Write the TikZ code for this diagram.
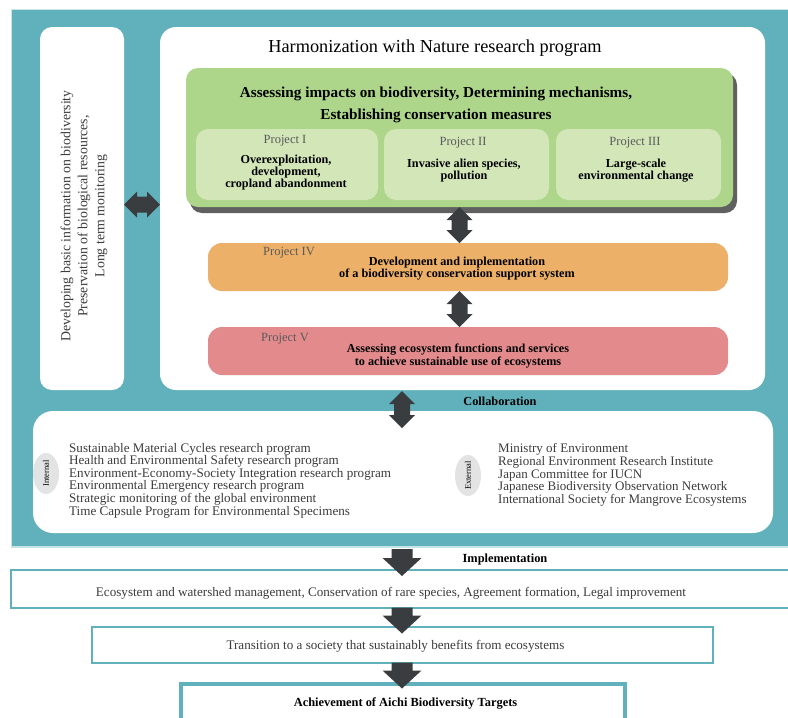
\documentclass[tikz,border=0pt]{standalone}
\usepackage{fontspec}
\setmainfont{Liberation Serif}
\usetikzlibrary{calc,shapes.geometric}
\definecolor{teal1}{HTML}{60B1BB}
\definecolor{grn1}{HTML}{AED68A}
\definecolor{grn2}{HTML}{D2E6B8}
\definecolor{org1}{HTML}{EDB068}
\definecolor{pnk1}{HTML}{E38B8C}
\definecolor{arr1}{HTML}{3A3D3F}
\definecolor{txtg}{HTML}{3C3C3C}
\definecolor{labg}{HTML}{5A5A5A}
\tikzset{
  box/.style={inner sep=0pt, outer sep=0pt},
  whitebox/.style={box, fill=white, rounded corners=14pt},
  projbox/.style={box, fill=grn2, rounded corners=12pt},
  plabel/.style={text=labg, font=\fontsize{12.5}{13}\selectfont},
  btext/.style={align=center, font=\bfseries\fontsize{12.2}{11}\selectfont},
  listtext/.style={align=left, anchor=west, inner sep=0pt, text=txtg},
  tag/.style={ellipse, fill=gray!22, minimum width=26pt, minimum height=41pt, inner sep=0pt},
  tagtext/.style={rotate=90, font=\fontsize{8.5}{9}\selectfont},
  stepframe/.style={box, fill=white, draw=teal1},
}
% vertical double block arrow between two points (same x)
\newcommand\vdouble[2]{%
  \path let \p1=(#1), \p2=(#2) in [fill=arr1]
    (\x1,\y1) -- (\x1+13pt,\y1-13pt) -- (\x1+8pt,\y1-13pt) -- (\x1+8pt,\y2+13pt)
    -- (\x1+13pt,\y2+13pt) -- (\x1,\y2) -- (\x1-13pt,\y2+13pt) -- (\x1-8pt,\y2+13pt)
    -- (\x1-8pt,\y1-13pt) -- (\x1-13pt,\y1-13pt) -- cycle;}
% horizontal double block arrow between two points (same y)
\newcommand\hdouble[2]{%
  \path let \p1=(#1), \p2=(#2) in [fill=arr1]
    (\x1,\y1) -- (\x1+13pt,\y1+13pt) -- (\x1+13pt,\y1+8pt) -- (\x2-13pt,\y1+8pt)
    -- (\x2-13pt,\y1+13pt) -- (\x2,\y1) -- (\x2-13pt,\y1-13pt) -- (\x2-13pt,\y1-8pt)
    -- (\x1+13pt,\y1-8pt) -- (\x1+13pt,\y1-13pt) -- cycle;}
% single downward block arrow from #1 to tip #2
\newcommand\vdown[2]{%
  \path let \p1=(#1), \p2=(#2) in [fill=arr1]
    (\x1-10.5pt,\y1) -- (\x1+10.5pt,\y1) -- (\x1+10.5pt,\y2+18pt) -- (\x1+19.5pt,\y2+18pt)
    -- (\x1,\y2) -- (\x1-19.5pt,\y2+18pt) -- (\x1-10.5pt,\y2+18pt) -- cycle;}
\begin{document}
\begin{tikzpicture}[x=1pt,y=-1pt]
\useasboundingbox (0,0) rectangle (788,718);
\fill[white] (0,0) rectangle (788,718);

% teal frame with a soft edge
\fill[teal1!35] (11,9) rectangle (790,548);
\node[box, fill=teal1, minimum width=778pt, minimum height=536pt] (frame) at (401,278) {};

% left column and main program panel
\node[whitebox, rounded corners=12pt, minimum width=84pt, minimum height=363pt] (lbox) at (82,208.5) {};
\node[rotate=90, align=center, text=txtg, font=\fontsize{13.8}{17}\selectfont] (ltext) at (84,216)
  {Developing basic information on biodiversity\\Preservation of biological resources,\\Long term monitoring};
\node[whitebox, rounded corners=16pt, minimum width=605pt, minimum height=363pt] (main) at (462.5,208.5) {};
\node[font=\fontsize{18.3}{20}\selectfont] (title) at (435,48) {Harmonization with Nature research program};

% green block with projects I-III
\fill[gray!75!black, rounded corners=12pt] (190,73) rectangle (737,213);
\node[box, fill=grn1, rounded corners=12pt, minimum width=547pt, minimum height=139pt] (grn) at (459.5,137.5) {};
\node[align=center, font=\bfseries\fontsize{15.2}{22}\selectfont] (gtitle) at (436,104.5)
  {Assessing impacts on biodiversity, Determining mechanisms,\\Establishing conservation measures};

\node[projbox, minimum width=182pt, minimum height=71pt] (p1) at (287,164.5) {};
\node[plabel] (p1l) at (285,141) {Project I};
\node[btext] (p1t) at (286,173) {Overexploitation,\\development,\\cropland abandonment};

\node[projbox, minimum width=165pt, minimum height=71pt] (p2) at (466.5,164.5) {};
\node[plabel] (p2l) at (463,143) {Project II};
\node[btext] (p2t) at (464,170.5) {Invasive alien species,\\pollution};

\node[projbox, minimum width=165pt, minimum height=71pt] (p3) at (638.5,164.5) {};
\node[plabel] (p3l) at (635,143) {Project III};
\node[btext] (p3t) at (636,170.5) {Large-scale\\environmental change};

% projects IV and V
\node[box, fill=org1, rounded corners=14pt, minimum width=520pt, minimum height=48pt] (p4) at (468,267) {};
\node[plabel] (p4l) at (289,253) {Project IV};
\node[btext] (p4t) at (457,268.5) {Development and implementation\\of a biodiversity conservation support system};

\node[box, fill=pnk1, rounded corners=14pt, minimum width=520pt, minimum height=48pt] (p5) at (468,351) {};
\node[plabel] (p5l) at (285,339) {Project V};
\node[btext] (p5t) at (458,356) {Assessing ecosystem functions and services\\to achieve sustainable use of ecosystems};

% links inside the program
\vdouble{grn.south}{grn.south |- p4.north}
\vdouble{p4.south -| grn.south}{p5.north -| grn.south}
\hdouble{[yshift=4pt]lbox.east}{[yshift=4pt]main.west}

% collaboration panel
\node[whitebox, rounded corners=20pt, minimum width=740pt, minimum height=122pt] (collab) at (403,472) {};
\coordinate (cTop) at (402,391);
\coordinate (cBot) at (402,428);
\vdouble{cTop}{cBot}
\node[font=\bfseries\fontsize{12.3}{13}\selectfont] (coll) at (500,401) {Collaboration};

\node[tag] (int) at (46,473.5) {};
\node[tagtext] at (int) {Internal};
\node[listtext, font=\fontsize{13.1}{12.6}\selectfont] (intl) at (69,480.5) {Sustainable Material Cycles research program\\
Health and Environmental Safety research program\\
Environment-Economy-Society Integration research program\\
Environmental Emergency research program\\
Strategic monitoring of the global environment\\
Time Capsule Program for Environmental Specimens};

\node[tag] (ext) at (468,475.5) {};
\node[tagtext] at (ext) {External};
\node[listtext, font=\fontsize{13}{12.6}\selectfont] (extl) at (498,475) {Ministry of Environment\\
Regional Environment Research Institute\\
Japan Committee for IUCN\\
Japanese Biodiversity Observation Network\\
International Society for Mangrove Ecosystems};

% implementation chain
\node[stepframe, line width=2pt, minimum width=780pt, minimum height=38pt] (impl) at (401,588.5) {};
\node[text=txtg, font=\fontsize{13.1}{14}\selectfont] (implt) at (391,593) {Ecosystem and watershed management, Conservation of rare species, Agreement formation, Legal improvement};
\node[font=\bfseries\fontsize{12.4}{13}\selectfont] (implw) at (505,560) {Implementation};

\node[stepframe, line width=2pt, minimum width=621pt, minimum height=36pt] (trans) at (402.5,644.5) {};
\node[text=txtg, font=\fontsize{13.1}{14}\selectfont] (transt) at (395.5,646) {Transition to a society that sustainably benefits from ecosystems};

\node[stepframe, line width=4pt, minimum width=444pt, minimum height=44pt] (aichi) at (403,706) {};
\node[font=\bfseries\fontsize{12.4}{13}\selectfont] (aichit) at (405.5,703) {Achievement of Aichi Biodiversity Targets};

\coordinate (d1a) at (402,549);
\coordinate (d1b) at (402,576);
\vdown{d1a}{d1b}
\vdown{impl.south -| d1a}{[yshift=-26pt]impl.south -| d1a}
\vdown{trans.south -| d1a}{[yshift=-26pt]trans.south -| d1a}
\end{tikzpicture}
\end{document}
